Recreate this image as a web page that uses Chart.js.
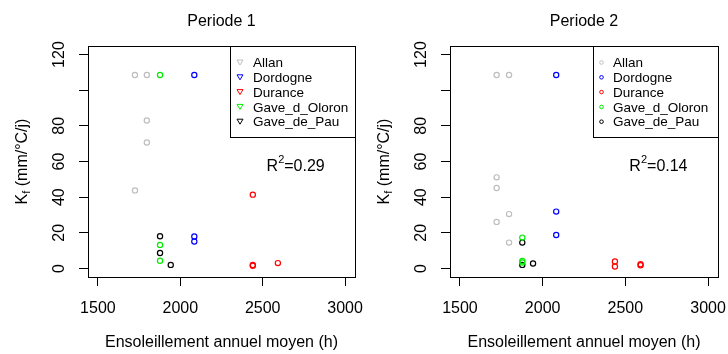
<!DOCTYPE html>
<html>
<head>
<meta charset="utf-8">
<title>Ensoleillement et Kf</title>
<script src="https://cdn.jsdelivr.net/npm/chart.js@4/dist/chart.umd.min.js"></script>
<style>
  body { margin: 0; background: #fff; }
  .panel { position: absolute; top: 0; width: 364px; height: 354px; }
</style>
</head>
<body>
<div class="panel" style="left:0"><canvas id="p1" width="364" height="354"></canvas></div>
<div class="panel" style="left:364px"><canvas id="p2" width="364" height="354"></canvas></div>
<script>
// bassins et couleurs
const rivers = ["Allan", "Dordogne", "Durance", "Gave_d_Oloron", "Gave_de_Pau"];
const riverColours = ["#bebebe", "#0000ff", "#ff0000", "#00ee00", "#000000"];

const xTicks = [1500, 2000, 2500, 3000];
const yTicks = [0, 20, 40, 60, 80, 100, 120];
const yTickLabels = ["0", "20", "40", "60", "80", "", "120"];

// Periode 1 : [ensoleillement (h), Kf]
const p1Allan = [[1725, 108.5], [1797, 108.5], [1797, 83.0], [1797, 70.7], [1725, 43.8]];
const p1Dordogne = [[2085, 108.5], [2085, 17.9], [2085, 15.1]];
const p1Durance = [[2440, 41.4], [2440, 2.0], [2440, 1.5], [2592, 3.0]];
const p1GaveOloron = [[1877, 108.5], [1877, 13.2], [1877, 4.3]];
const p1GavePau = [[1877, 18.1], [1877, 8.7], [1942, 2.0]];

// Periode 2
const p2Allan = [[1722, 108.5], [1797, 108.5], [1722, 51.1], [1722, 45.1], [1797, 30.5], [1722, 26.1], [1797, 14.5]];
const p2Dordogne = [[2082, 108.5], [2082, 31.9], [2082, 18.8]];
const p2Durance = [[2437, 3.9], [2437, 1.1], [2592, 2.4], [2592, 1.8]];
const p2GaveOloron = [[1877, 17.3], [1877, 4.2], [1877, 3.3]];
const p2GavePau = [[1877, 14.5], [1877, 2.0], [1942, 2.8]];

const r2Values = ["0.29", "0.14"];

const FONT = '"Liberation Sans", Arial, sans-serif';

function makeDatasets(series) {
  return series.map((pts, i) => ({
    label: rivers[i],
    data: pts.map(([x, y]) => ({ x: x, y: y })),
    borderColor: riverColours[i],
    backgroundColor: "rgba(0,0,0,0)",
    pointStyle: "circle",
    pointRadius: 2.6,
    borderWidth: 1.2,
    showLine: false
  }));
}

// cadre, titres, étiquettes verticales, légende et R²
const rDecor = {
  id: "rDecor",
  afterDraw(chart, args, opts) {
    const ctx = chart.ctx;
    const a = chart.chartArea;
    const x = chart.scales.x, y = chart.scales.y;
    ctx.save();
    ctx.strokeStyle = "#000";
    ctx.fillStyle = "#000";
    ctx.lineWidth = 1;
    ctx.strokeRect(Math.round(a.left) + 0.5, Math.round(a.top) + 0.5,
      Math.round(a.right - a.left), Math.round(a.bottom - a.top));

    // titre
    ctx.font = "16px " + FONT;
    ctx.textAlign = "center";
    ctx.textBaseline = "alphabetic";
    ctx.fillText(opts.title, (a.left + a.right) / 2, 26);

    // titre de l'axe x
    ctx.fillText("Ensoleillement annuel moyen (h)", (a.left + a.right) / 2, 347);

    // graduations de l'axe y, écrites à la verticale
    yTicks.forEach((v, i) => {
      if (!yTickLabels[i]) return;
      ctx.save();
      ctx.translate(opts.yLabelX, y.getPixelForValue(v));
      ctx.rotate(-Math.PI / 2);
      ctx.textAlign = "center";
      ctx.textBaseline = "middle";
      ctx.fillText(yTickLabels[i], 0, 0);
      ctx.restore();
    });

    // titre de l'axe y : K indice f (mm/°C/j)
    ctx.save();
    ctx.translate(opts.yTitleX, (a.top + a.bottom) / 2);
    ctx.rotate(-Math.PI / 2);
    ctx.textAlign = "left";
    ctx.font = "16px " + FONT;
    const wK = ctx.measureText("K").width;
    const rest = " (mm/\u00b0C/j)";
    const wRest = ctx.measureText(rest).width;
    ctx.font = "11px " + FONT;
    const wSub = ctx.measureText("f").width;
    let cx = -(wK + wSub + wRest) / 2;
    ctx.font = "16px " + FONT;
    ctx.fillText("K", cx, 0);
    cx += wK;
    ctx.font = "11px " + FONT;
    ctx.fillText("f", cx, 3);
    cx += wSub;
    ctx.font = "16px " + FONT;
    ctx.fillText(rest, cx, 0);
    ctx.restore();

    // R²
    const rx = x.getPixelForValue(2700);
    const ry = y.getPixelForValue(57.8) + 6;
    ctx.font = "16px " + FONT;
    const wR = ctx.measureText("R").width;
    const wVal = ctx.measureText("=" + opts.r2).width;
    ctx.font = "11px " + FONT;
    const w2 = ctx.measureText("2").width;
    let sx = rx - (wR + w2 + wVal) / 2;
    ctx.textAlign = "left";
    ctx.font = "16px " + FONT;
    ctx.fillText("R", sx, ry);
    sx += wR;
    ctx.font = "11px " + FONT;
    ctx.fillText("2", sx, ry - 8);
    sx += w2;
    ctx.font = "16px " + FONT;
    ctx.fillText("=" + opts.r2, sx, ry);

    // légende
    const lw = 125, lh = 91;
    const L = Math.round(a.right) - lw, T = Math.round(a.top);
    ctx.strokeRect(L + 0.5, T + 0.5, lw, lh);
    ctx.font = "13.5px " + FONT;
    ctx.textBaseline = "middle";
    chart.data.datasets.forEach((ds, i) => {
      const cy = T + 16.5 + i * 14.8;
      const px = L + opts.symbolDx;
      ctx.strokeStyle = ds.borderColor;
      ctx.lineWidth = 1;
      ctx.beginPath();
      if (opts.symbol === "triangle") {
        ctx.moveTo(px - 3, cy - 2.5);
        ctx.lineTo(px + 3, cy - 2.5);
        ctx.lineTo(px, cy + 2.5);
        ctx.closePath();
      } else {
        ctx.arc(px, cy, 1.8, 0, Math.PI * 2);
      }
      ctx.stroke();
      ctx.fillStyle = "#000";
      ctx.fillText(ds.label, L + opts.textDx, cy + 1);
    });
    ctx.restore();
  }
};

function makeChart(id, series, decor, padRight) {
  return new Chart(document.getElementById(id), {
    type: "scatter",
    data: { datasets: makeDatasets(series) },
    options: {
      responsive: false,
      animation: false,
      layout: { padding: { top: 46, right: padRight, left: 0, bottom: 0 } },
      plugins: {
        legend: { display: false },
        tooltip: { enabled: false },
        rDecor: decor
      },
      scales: {
        x: {
          type: "linear",
          min: 1440,
          max: 3060,
          afterBuildTicks: (s) => { s.ticks = xTicks.map((v) => ({ value: v })); },
          afterFit: (s) => { s.height = 77; s.paddingLeft = 0; s.paddingRight = 0; },
          grid: { drawOnChartArea: false, drawTicks: true, tickLength: 9, color: "#000", lineWidth: 1 },
          border: { display: false },
          ticks: {
            color: "#000",
            font: { size: 16, family: FONT },
            padding: 13,
            maxRotation: 0,
            autoSkip: false,
            callback: (v) => String(v)
          }
        },
        y: {
          type: "linear",
          min: -4.8,
          max: 124.8,
          afterBuildTicks: (s) => { s.ticks = yTicks.map((v) => ({ value: v })); },
          afterFit: (s) => { s.width = decor.left; s.paddingTop = 0; s.paddingBottom = 0; },
          grid: { drawOnChartArea: false, drawTicks: true, tickLength: 9, color: "#000", lineWidth: 1 },
          border: { display: false },
          ticks: { display: false }
        }
      }
    },
    plugins: [rDecor]
  });
}

makeChart("p1", [p1Allan, p1Dordogne, p1Durance, p1GaveOloron, p1GavePau],
  { title: "Periode 1", r2: r2Values[0], symbol: "triangle", symbolDx: 10, textDx: 23,
    left: 88, yLabelX: 60, yTitleX: 27 }, 9);

makeChart("p2", [p2Allan, p2Dordogne, p2Durance, p2GaveOloron, p2GavePau],
  { title: "Periode 2", r2: r2Values[1], symbol: "dot", symbolDx: 8.5, textDx: 20,
    left: 86, yLabelX: 58, yTitleX: 25 }, 10);
</script>
</body>
</html>
